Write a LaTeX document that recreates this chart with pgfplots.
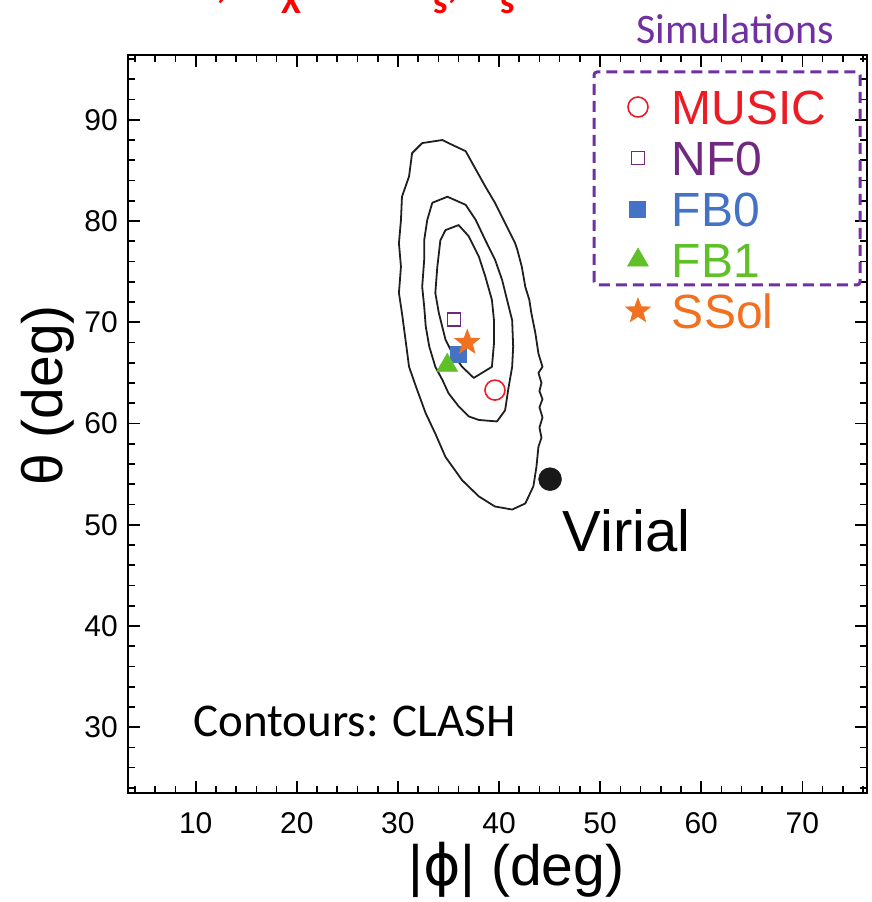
\documentclass[border=0pt]{standalone}
\usepackage{fontspec}
\usepackage{pgfplots}
\pgfplotsset{compat=1.18}
\usetikzlibrary{plotmarks}
\newfontfamily\lsans{Liberation Sans}
\newfontfamily\dsans{DejaVu Sans}
\newfontfamily\carl{Carlito}
\definecolor{cred}{RGB}{237,28,36}
\definecolor{cpurp}{RGB}{112,40,128}
\definecolor{cblue}{RGB}{68,114,196}
\definecolor{cgreen}{RGB}{96,192,40}
\definecolor{corange}{RGB}{242,113,33}
\definecolor{cbox}{RGB}{112,48,160}
\pgfdeclareplotmark{fstar}{%
 \pgfpathmoveto{\pgfpointpolar{90}{\pgfplotmarksize}}%
 \pgfpathlineto{\pgfpointpolar{126}{0.42\pgfplotmarksize}}%
 \pgfpathlineto{\pgfpointpolar{162}{\pgfplotmarksize}}%
 \pgfpathlineto{\pgfpointpolar{198}{0.42\pgfplotmarksize}}%
 \pgfpathlineto{\pgfpointpolar{234}{\pgfplotmarksize}}%
 \pgfpathlineto{\pgfpointpolar{270}{0.42\pgfplotmarksize}}%
 \pgfpathlineto{\pgfpointpolar{306}{\pgfplotmarksize}}%
 \pgfpathlineto{\pgfpointpolar{342}{0.42\pgfplotmarksize}}%
 \pgfpathlineto{\pgfpointpolar{18}{\pgfplotmarksize}}%
 \pgfpathlineto{\pgfpointpolar{54}{0.42\pgfplotmarksize}}%
 \pgfpathclose\pgfusepathqfill}
\pgfplotsset{lgimg/.style={legend image code/.code={\path[draw=none,fill=none] (-17pt,-10pt) rectangle (17pt,10pt); \draw[##1] plot coordinates {(0pt,0pt)};}}}
\begin{document}
\begin{tikzpicture}
\useasboundingbox (0,0) rectangle (872pt,902pt);
\clip (0,0) rectangle (872pt,902pt);
\begin{axis}[
 at={(128pt,109pt)}, anchor=south west,
 width=739pt, height=738pt, scale only axis,
 xmin=3.3, xmax=76.4, ymin=23.5, ymax=96.4,
 xtick={10,20,...,70}, ytick={30,40,...,90},
 minor xtick={4,6,...,76}, minor ytick={24,26,...,96},
 tick align=inside,
 major tick length=12pt, minor tick length=7pt,
 every tick/.style={black, line width=1.6pt},
 axis line style={line width=2pt, black},
 tick label style={font=\fontsize{30}{36}\selectfont\lsans, inner sep=0pt},
 /pgf/number format/assume math mode=true,
 xticklabel style={yshift=-19pt},
 yticklabel style={xshift=-10pt},
 xlabel={|{\dsans ϕ}| (deg)}, ylabel={θ (deg)},
 label style={font=\fontsize{57}{60}\selectfont\lsans, inner sep=0pt},
 xlabel style={at={(axis description cs:0.379,0)}, anchor=base west, yshift=-92pt},
 ylabel style={at={(axis description cs:-0.0893,0.416)}, anchor=base west},
 legend cell align=left,
 legend style={at={(axis description cs:0.6671,0.9634)}, anchor=north west, draw=none, fill=none, inner sep=0pt, outer sep=0pt, row sep=1pt, column sep=17pt, font=\fontsize{48}{55}\selectfont\lsans, nodes={inner sep=0pt, text height=42pt, text depth=8pt}},
]
% outer contour
\addplot[black!88, line width=1.8pt, line join=round, forget plot] coordinates {
(32.4,87.7) (34.4,88.0) (35.0,87.7) (36.7,86.9) (37.7,85.1) (38.65,83.4) (39.6,81.8) (40.6,79.8) (41.6,77.8) (41.8,77.2) (42.25,75.5) (42.6,73.5) (43.0,72.2) (43.2,70.9) (43.6,68.9) (43.9,66.9) (44.3,65.6) (43.9,65.0) (44.2,64.0) (44.0,63.2) (44.3,62.4) (44.0,61.6) (44.3,60.6) (44.0,59.6) (44.2,58.6) (43.9,57.7) (43.7,55.7) (43.4,53.8) (42.6,52.1) (41.3,51.5) (39.6,51.8) (38.0,52.8) (36.35,54.4) (34.7,56.7) (33.7,59.0) (32.75,61.0) (31.8,63.6) (31.1,65.6) (30.8,67.9) (30.4,70.9) (30.1,72.9) (30.3,75.5) (30.1,77.8) (30.3,80.1) (30.4,82.4) (31.1,84.4) (31.4,86.7) (32.4,87.7)};
% middle contour
\addplot[black!88, line width=1.8pt, line join=round, forget plot] coordinates {
(33.4,81.8) (34.9,82.4) (36.7,81.6) (37.7,80.1) (38.65,78.1) (39.6,76.2) (40.3,74.2) (40.8,72.2) (41.3,70.2) (41.4,67.6) (41.3,65.6) (40.95,63.6) (40.6,61.3) (39.8,60.2) (38.0,60.35) (37.0,60.7) (36.0,61.7) (35.0,63.0) (34.4,64.3) (33.7,65.6) (33.1,67.6) (32.75,69.6) (32.6,71.55) (32.4,73.5) (32.6,76.2) (32.6,78.1) (32.9,80.1) (33.4,81.8)};
% inner contour
\addplot[black!88, line width=1.8pt, line join=round, forget plot] coordinates {
(34.7,79.1) (36.0,79.6) (37.0,78.5) (38.0,76.5) (38.65,74.5) (39.3,72.2) (39.5,70.2) (39.5,67.9) (39.3,65.6) (37.5,64.5) (36.35,65.6) (35.4,66.9) (34.7,68.3) (34.05,70.9) (33.7,72.9) (33.9,75.5) (34.2,78.1) (34.7,79.1)};
% simulations
\addplot[only marks, lgimg, mark=o, mark size=10pt, mark options={draw=cred, line width=1.6pt}] coordinates {(39.6,63.3)};
\addlegendentry{\textcolor{cred}{MUSIC}}
\addplot[only marks, lgimg, mark=square, mark size=6.5pt, mark options={draw=cpurp, line width=1.6pt}] coordinates {(35.54,70.3)};
\addlegendentry{\textcolor{cpurp}{NF0}}
\addplot[only marks, lgimg, mark=square*, mark size=8pt, mark options={draw=cblue, fill=cblue, line width=0pt}] coordinates {(36.04,66.85)};
\addlegendentry{\textcolor{cblue}{FB0}}
\addplot[only marks, lgimg, mark=triangle*, mark size=12pt, mark options={fill=cgreen, draw=cgreen, line width=0.5pt}] coordinates {(34.88,65.75)};
\addlegendentry{\textcolor{cgreen}{FB1}}
\addplot[only marks, lgimg, mark=fstar, mark size=14pt, mark options={fill=corange, draw=none}] coordinates {(36.86,68.0)};
\addlegendentry{\textcolor{corange}{SSol}}
% virial
\addplot[only marks, mark=*, mark size=11.5pt, mark options={fill=black!90, draw=black!90}, forget plot] coordinates {(45.05,54.5)};
\node[anchor=base west, inner sep=0pt, font=\fontsize{58}{60}\selectfont\lsans] at (axis cs:46.27,47.4) {Virial};
\node[anchor=base west, inner sep=0pt, font=\fontsize{47}{50}\selectfont\carl] at (axis cs:9.74,29.13) {Contours: CLASH};
\end{axis}
\draw[cbox, line width=3pt, dash pattern=on 11pt off 6pt, rounded corners=3pt] (594pt,617pt) rectangle (860pt,830pt);
\node[anchor=base west, inner sep=0pt, text=cbox, font=\fontsize{42}{44}\selectfont\carl] at (636pt,858pt) {Simulations};
\begin{scope}[red, every node/.style={inner sep=0pt, anchor=base west, text=red}]
\node[font=\fontsize{46}{48}\selectfont\carl\bfseries] at (216pt,904pt) {,};
\node[font=\fontsize{36}{38}\selectfont\carl\bfseries] at (281pt,888pt) {X};
\node[font=\fontsize{36}{38}\selectfont\carl\bfseries] at (433pt,888pt) {s};
\node[font=\fontsize{46}{48}\selectfont\carl\bfseries] at (447pt,904pt) {,};
\node[font=\fontsize{36}{38}\selectfont\carl\bfseries] at (500pt,888pt) {s};
\end{scope}
\end{tikzpicture}
\end{document}
